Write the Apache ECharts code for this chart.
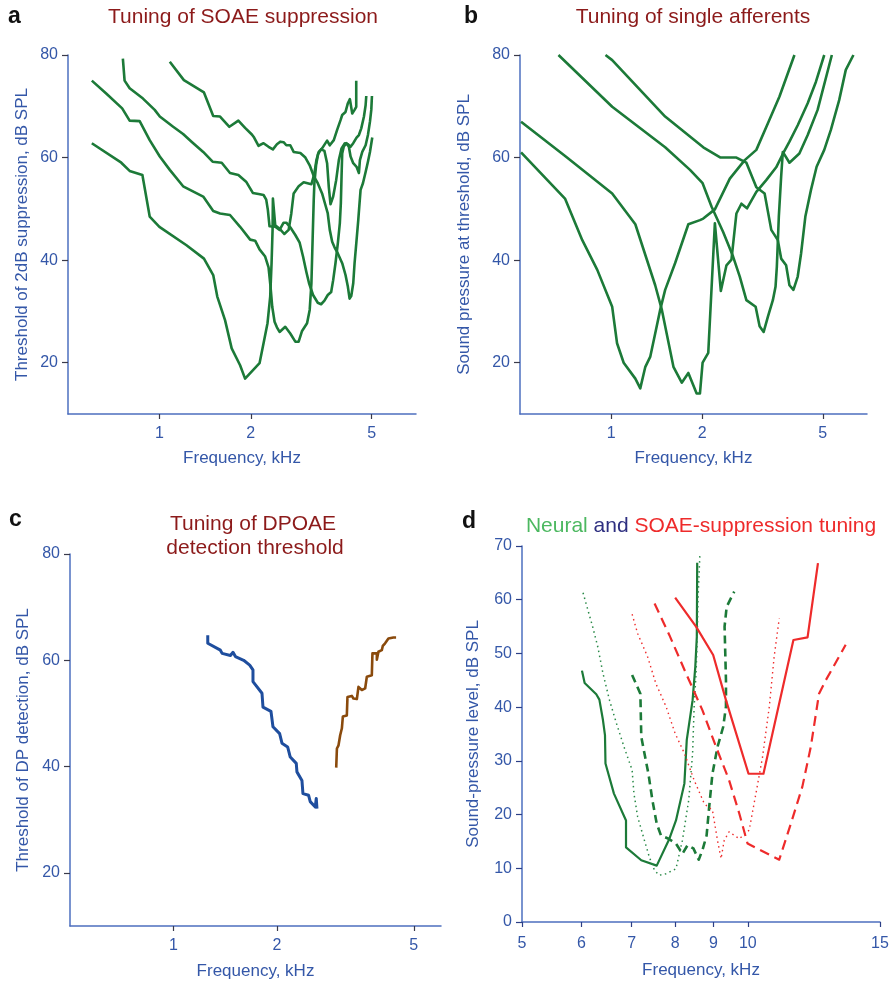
<!DOCTYPE html>
<html>
<head>
<meta charset="utf-8">
<script src="https://cdn.jsdelivr.net/npm/echarts@6/dist/echarts.min.js"></script>
<style>
html,body{margin:0;padding:0;background:#fff;}
#chart{width:896px;height:982px;}
</style>
</head>
<body>
<div id="chart"></div>
<script>
// ---------- DATA (frequency in kHz, level in dB SPL) ----------
// Panel a: Tuning of SOAE suppression
const aFreq1 = [0.599,0.749,0.798,0.879,0.929,1.00,1.228,1.402,1.504,1.551,1.645,1.730,1.844,1.915,2.137,2.203,2.270,2.317,2.341,2.359,2.365,2.407,2.500,2.578,2.665,2.719,2.768,2.875,2.987,3.167,3.239,3.289,3.348,3.434,3.567,3.640,3.753,3.849,3.950,4.000,4.102,4.176,4.240,4.316,4.393,4.449,4.449];
const aDb1   = [62.8,59.0,57.4,56.6,48.5,46.5,42.9,40.3,37.1,32.9,28.3,22.8,19.5,16.9,19.9,23.8,27.7,32.9,39.4,45.9,52.0,46.8,46.0,45.1,45.9,49.1,53.0,54.4,55.2,54.8,56.9,59.5,61.1,61.8,63.3,62.4,63.4,65.4,67.3,68.3,68.9,70.6,71.4,68.6,69.3,69.9,75.0];
const aFreq2 = [0.599,0.668,0.754,0.798,0.861,0.929,1.003,1.082,1.197,1.394,1.504,1.584,1.708,1.844,1.990,2.067,2.137,2.230,2.288,2.323,2.353,2.395,2.438,2.488,2.597,2.698,2.803,2.875,2.950,3.064,3.126,3.167,3.198,3.223,3.239,3.281,3.331,3.408,3.496,3.567,3.613,3.660,3.735,3.821,3.899,3.980,4.081,4.176,4.262,4.349,4.460,4.540,4.622,4.717,4.777,4.801];
const aDb2   = [75.0,72.5,69.6,67.2,67.1,63.4,60.2,57.6,54.4,52.4,49.6,49.1,48.8,46.5,44.0,43.8,42.1,40.7,38.6,34.8,30.9,28.0,26.9,26.0,27.0,25.7,24.1,24.1,26.2,27.7,30.3,35.5,44.6,51.7,55.0,58.5,60.7,61.6,61.3,58.9,54.3,50.9,52.4,55.6,59.5,61.8,62.8,62.6,62.1,62.8,63.9,64.4,65.7,68.0,70.2,72.0];
const aFreq3 = [0.758,0.768,0.798,0.883,0.965,1.003,1.110,1.197,1.276,1.394,1.497,1.604,1.708,1.820,1.930,1.990,2.031,2.121,2.203,2.248,2.276,2.305,2.407,2.488,2.565,2.618,2.698,2.803,2.897,2.972,3.048,3.111,3.207,3.323,3.408,3.496,3.585,3.679,3.735,3.801,3.870,3.929,3.959,3.980,4.000,4.050,4.133,4.207,4.262,4.349,4.460,4.540,4.575,4.657,4.777,4.862,4.937,4.987,5.012];
const aDb3   = [79.3,75.0,73.5,71.5,69.3,68.0,66.0,64.6,63.1,61.1,59.2,59.0,57.0,56.6,55.3,54.0,53.1,52.9,52.7,51.8,49.8,46.6,46.5,45.9,47.3,47.3,46.4,44.9,43.4,40.7,37.7,35.5,33.2,31.7,31.4,32.1,33.2,33.8,36.1,39.4,43.3,47.2,51.1,56.3,60.8,62.2,62.8,62.1,60.2,58.9,58.2,57.0,59.5,61.1,62.4,64.4,67.0,69.3,72.0];
const aFreq4 = [1.082,1.204,1.402,1.504,1.584,1.700,1.820,1.915,2.016,2.051,2.121,2.203,2.288,2.365,2.438,2.500,2.565,2.618,2.698,2.768,2.912,3.025,3.126,3.223,3.323,3.434,3.523,3.585,3.640,3.707,3.774,3.870,4.000,4.102,4.176,4.230,4.284,4.349,4.393,4.460,4.518,4.552,4.598,4.681,4.777,4.862,4.937,5.024];
const aDb4   = [78.7,75.1,72.7,68.1,68.0,66.0,67.2,65.8,64.5,63.9,62.3,62.8,62.1,61.6,62.6,63.1,63.0,62.4,62.4,61.1,60.9,60.0,58.5,56.4,55.0,53.0,50.7,49.1,45.9,43.6,42.5,41.3,39.4,37.1,34.8,32.5,33.0,35.5,39.4,43.9,47.8,50.4,53.7,55.0,57.2,59.2,61.1,63.9];

// Panel b: Tuning of single afferents
const bFreq1 = [0.504,0.708,1.008,1.202,1.398,1.471,1.606,1.711,1.799,1.916,1.965,2.005,2.093,2.201,2.303,2.404,2.497,2.593,2.693,2.810,3.017,3.253,3.509,3.690,3.881,4.133,4.459,4.748,5.057];
const bDb1   = [67.0,60.2,53.0,47.0,35.1,30.3,19.2,16.1,18.0,14.0,14.0,20.0,21.9,47.2,34.0,39.0,40.1,49.1,51.0,50.1,53.3,55.6,58.1,60.7,63.1,66.3,70.6,74.8,80.0];
const bFreq2 = [0.504,0.704,0.803,0.900,1.008,1.046,1.100,1.202,1.248,1.297,1.347,1.398,1.452,1.508,1.626,1.799,1.965,2.015,2.201,2.466,2.762,3.017,3.295,3.598,4.031];
const bDb2   = [61.0,52.0,43.9,38.1,30.9,23.8,20.0,16.9,15.0,19.2,21.2,25.7,30.3,34.2,39.4,47.0,47.8,48.1,49.9,55.9,59.5,61.5,66.7,71.9,80.0];
const bFreq3 = [0.670,1.008,1.508,1.822,2.005,2.147,2.344,2.528,2.660,2.797,3.001,3.093,3.190,3.295,3.421,3.491,3.526,3.580,3.644,3.690,3.881,4.185,4.459,4.808,5.358];
const bDb3   = [80.0,69.9,62.0,57.6,55.0,50.4,45.5,40.7,36.8,32.2,30.9,27.1,26.0,29.0,32.2,34.8,38.7,48.5,56.3,61.1,59.0,60.8,64.4,69.3,80.0];
const bFreq4 = [0.958,1.008,1.508,2.015,2.298,2.593,2.797,3.017,3.213,3.380,3.553,3.644,3.784,3.881,4.000,4.133,4.240,4.380,4.572,4.772,5.057,5.318,5.665,5.957,6.314];
const bDb4   = [80.0,79.0,68.0,62.0,60.0,60.0,59.0,54.2,53.0,45.9,43.9,40.3,39.0,35.1,34.2,36.8,41.3,48.5,53.7,58.2,61.5,65.4,71.2,77.1,80.0];

// Panel c: Tuning of DPOAE detection threshold
const cFreqLow = [1.258,1.258,1.369,1.385,1.464,1.490,1.514,1.600,1.666,1.703,1.703,1.809,1.821,1.921,1.947,2.036,2.068,2.148,2.186,2.276,2.286,2.364,2.380,2.472,2.499,2.585,2.602,2.614];
const cDbLow   = [64.7,63.2,61.9,61.3,60.9,61.5,60.7,60.0,59.1,58.2,56.0,53.8,51.2,50.4,47.5,46.2,44.4,43.7,41.8,40.6,39.0,37.4,34.9,34.6,33.4,32.4,34.0,32.1];
const cFreqHigh = [2.974,2.988,3.020,3.054,3.089,3.109,3.193,3.207,3.302,3.338,3.415,3.452,3.531,3.610,3.651,3.775,3.791,3.904,3.904,3.946,4.036,4.063,4.126,4.219,4.362,4.441];
const cDbHigh   = [39.8,43.4,44.0,45.9,47.2,49.4,49.6,53.1,53.3,52.8,52.7,55.0,54.4,54.7,56.9,57.2,61.3,61.3,60.1,61.6,61.9,62.7,63.2,64.1,64.3,64.3];

// Panel d: Neural and SOAE-suppression tuning
const dNeuralSolidFreq = [6.01,6.06,6.28,6.34,6.41,6.45,6.46,6.63,6.88,6.88,7.21,7.56,7.86,8.02,8.23,8.29,8.44,8.51,8.55,8.56];
const dNeuralSolidDb   = [46.8,44.5,42.4,41.4,37.6,34.8,29.5,23.9,18.9,13.9,11.5,10.5,15.5,18.9,25.8,33.9,41.3,47.5,53.1,66.9];
const dNeuralDotFreq = [6.03,6.12,6.21,6.31,6.41,6.54,6.68,6.85,7.01,7.05,7.13,7.28,7.39,7.51,7.62,7.78,8.02,8.18,8.34,8.44,8.48,8.53,8.56,8.58,8.63];
const dNeuralDotDb   = [61.3,58.1,55.0,51.2,46.3,41.3,37.0,32.3,28.3,23.9,19.6,15.2,12.1,9.6,8.7,9.0,9.9,15.2,22.7,31.4,40.1,46.3,52.5,59.9,68.3];
const dNeuralDashFreq = [7.01,7.19,7.21,7.28,7.37,7.46,7.56,7.66,7.84,8.02,8.18,8.31,8.46,8.60,8.70,8.81,8.88,8.97,9.11,9.27,9.35,9.35,9.33,9.31,9.37,9.59];
const dNeuralDashDb   = [46.0,42.5,34.5,31.4,27.6,22.7,18.3,16.1,15.5,14.6,12.7,14.3,13.7,11.6,13.4,16.1,21.4,27.6,32.6,36.3,40.1,45.0,50.0,55.0,58.7,61.5];
const dSoaeSolidFreq = [8.00,8.53,8.99,9.35,10.02,10.49,11.50,12.01,12.40];
const dSoaeSolidDb   = [60.4,55.0,49.7,41.3,27.6,27.6,52.5,53.0,66.8];
const dSoaeDashFreq = [7.51,7.86,8.27,8.70,9.07,9.44,9.74,9.99,11.01,11.41,11.82,12.13,12.44,12.70,13.50];
const dSoaeDashDb   = [59.3,53.4,46.3,39.4,32.6,26.4,20.2,14.6,11.6,18.3,25.2,32.6,42.5,45.0,51.6];
const dSoaeDotFreq = [7.01,7.13,7.35,7.54,7.78,8.00,8.23,8.48,8.75,8.97,9.11,9.21,9.30,9.44,9.74,10.04,10.25,10.46,10.68,10.84,11.01];
const dSoaeDotDb   = [57.3,53.7,49.4,44.4,40.1,35.1,31.4,26.4,22.0,20.8,15.2,11.8,15.2,16.8,15.5,17.1,23.9,30.7,40.1,49.4,56.5];

// Tick labels
const freqTicksABC = [1, 2, 5];
const freqTicksD = [5, 6, 7, 8, 9, 10, 15];
const levelTicksABC = [20, 40, 60, 80];

// ---------- CHART ----------
const FONT = '"Liberation Sans", Arial, Helvetica, sans-serif';
const AXIS_COLOR = '#4d6fbf';
const LABEL_COLOR = '#3457a8';
const TICK_COLOR = '#3a3a4a';
const GREEN = '#1c7a38';
const RED = '#ee2b2b';

const lg = v => Math.log10(v);
const pts = (fs, ds) => fs.map((f, i) => [lg(f), ds[i]]);

const grids = [
  {left: 68, top: 55, width: 348, height: 359},
  {left: 520, top: 55, width: 347, height: 359},
  {left: 70, top: 554, width: 371, height: 372},
  {left: 522, top: 546, width: 358, height: 376}
];

function xAx(gi, minF, maxF, ticks, margin, nameGap, tickColor) {
  const tv = ticks.map(lg);
  return {
    type: 'value', gridIndex: gi, min: lg(minF), max: lg(maxF),
    axisLine: {show: true, onZero: false, lineStyle: {color: AXIS_COLOR, width: 1.5}},
    axisTick: {show: true, customValues: tv, length: 5, lineStyle: {color: tickColor, width: 1.2}},
    axisLabel: {show: true, customValues: tv, margin: margin, color: LABEL_COLOR, fontSize: 16, fontFamily: FONT,
      formatter: v => String(Math.round(Math.pow(10, v)))},
    splitLine: {show: false},
    name: 'Frequency, kHz', nameLocation: 'middle', nameGap: nameGap,
    nameTextStyle: {color: LABEL_COLOR, fontSize: 17, fontFamily: FONT}
  };
}
function yAx(gi, min, max, ticks, name, nameGap, tickColor, interval) {
  const ax = {
    type: 'value', gridIndex: gi, min: min, max: max,
    axisLine: {show: true, onZero: false, lineStyle: {color: AXIS_COLOR, width: 1.5}},
    axisTick: {show: true, length: 6, lineStyle: {color: tickColor, width: 1.2}},
    axisLabel: {show: true, margin: 10, color: LABEL_COLOR, fontSize: 16, fontFamily: FONT},
    splitLine: {show: false},
    name: name, nameLocation: 'middle', nameGap: nameGap,
    nameTextStyle: {color: LABEL_COLOR, fontSize: 17, fontFamily: FONT}
  };
  if (ticks) { ax.axisTick.customValues = ticks; ax.axisLabel.customValues = ticks; }
  if (interval) ax.interval = interval;
  return ax;
}

function line(gi, fs, ds, color, width, type) {
  return {
    type: 'line', xAxisIndex: gi, yAxisIndex: gi, data: pts(fs, ds),
    showSymbol: false, symbol: 'none', smooth: false, silent: true,
    lineStyle: {color: color, width: width, type: type || 'solid', cap: 'butt', join: 'round'},
    z: 3
  };
}

const titleFont = '21px ' + FONT;
const letterFont = 'bold 23px ' + FONT;
const DARKRED = '#8c1a1a';

const option = {
  animation: false,
  backgroundColor: '#ffffff',
  grid: grids,
  xAxis: [
    xAx(0, 0.5, 7, freqTicksABC, 12, 36, TICK_COLOR),
    xAx(1, 0.5, 7, freqTicksABC, 12, 36, TICK_COLOR),
    xAx(2, 0.5, 6, freqTicksABC, 12, 37, TICK_COLOR),
    xAx(3, 5, 15, freqTicksD, 14, 40, '#2c3f86')
  ],
  yAxis: [
    yAx(0, 10, 80, levelTicksABC, 'Threshold of 2dB suppression, dB SPL', 37, TICK_COLOR),
    yAx(1, 10, 80, levelTicksABC, 'Sound pressure at threshold, dB SPL', 47, TICK_COLOR),
    yAx(2, 10, 80, levelTicksABC, 'Threshold of DP detection, dB SPL', 38, TICK_COLOR),
    yAx(3, 0, 70, null, 'Sound-pressure level, dB SPL', 40, '#2c3f86', 10)
  ],
  series: [
    line(0, aFreq1, aDb1, GREEN, 2.6),
    line(0, aFreq2, aDb2, GREEN, 2.6),
    line(0, aFreq3, aDb3, GREEN, 2.6),
    line(0, aFreq4, aDb4, GREEN, 2.6),
    line(1, bFreq1, bDb1, GREEN, 2.6),
    line(1, bFreq2, bDb2, GREEN, 2.6),
    line(1, bFreq3, bDb3, GREEN, 2.6),
    line(1, bFreq4, bDb4, GREEN, 2.6),
    line(2, cFreqLow, cDbLow, '#1f4e9e', 3),
    line(2, cFreqHigh, cDbHigh, '#8a4a0c', 2.6),
    line(3, dNeuralSolidFreq, dNeuralSolidDb, GREEN, 2.2),
    line(3, dNeuralDotFreq, dNeuralDotDb, '#2a8a48', 1.5, [1.5, 3.5]),
    line(3, dNeuralDashFreq, dNeuralDashDb, GREEN, 2.6, [8, 5]),
    line(3, dSoaeSolidFreq, dSoaeSolidDb, RED, 2.2),
    line(3, dSoaeDashFreq, dSoaeDashDb, RED, 2.2, [10, 6]),
    line(3, dSoaeDotFreq, dSoaeDotDb, RED, 1.4, [1.5, 3.5])
  ],
  graphic: [
    {type: 'text', left: 8, top: 5, style: {text: 'a', font: letterFont, fill: '#111'}},
    {type: 'text', x: 243, y: 17, style: {text: 'Tuning of SOAE suppression', font: titleFont, fill: DARKRED, align: 'center', verticalAlign: 'middle'}},
    {type: 'text', left: 464, top: 5, style: {text: 'b', font: letterFont, fill: '#111'}},
    {type: 'text', x: 693, y: 17, style: {text: 'Tuning of single afferents', font: titleFont, fill: DARKRED, align: 'center', verticalAlign: 'middle'}},
    {type: 'text', left: 9, top: 508, style: {text: 'c', font: letterFont, fill: '#111'}},
    {type: 'text', x: 253, y: 524, style: {text: 'Tuning of DPOAE', font: titleFont, fill: DARKRED, align: 'center', verticalAlign: 'middle'}},
    {type: 'text', x: 255, y: 548, style: {text: 'detection threshold', font: titleFont, fill: DARKRED, align: 'center', verticalAlign: 'middle'}},
    {type: 'text', left: 462, top: 510, style: {text: 'd', font: letterFont, fill: '#111'}},
    {type: 'text', x: 701, y: 526, style: {
      text: '{g|Neural} {n|and} {r|SOAE-suppression tuning}',
      font: titleFont, align: 'center', verticalAlign: 'middle',
      rich: {
        g: {fill: '#4cb860', font: titleFont},
        n: {fill: '#2e2f80', font: titleFont},
        r: {fill: '#ee2b2b', font: titleFont}
      }
    }}
  ]
};

const chart = echarts.init(document.getElementById('chart'), null, {renderer: 'canvas'});
chart.setOption(option);
</script>
</body>
</html>
